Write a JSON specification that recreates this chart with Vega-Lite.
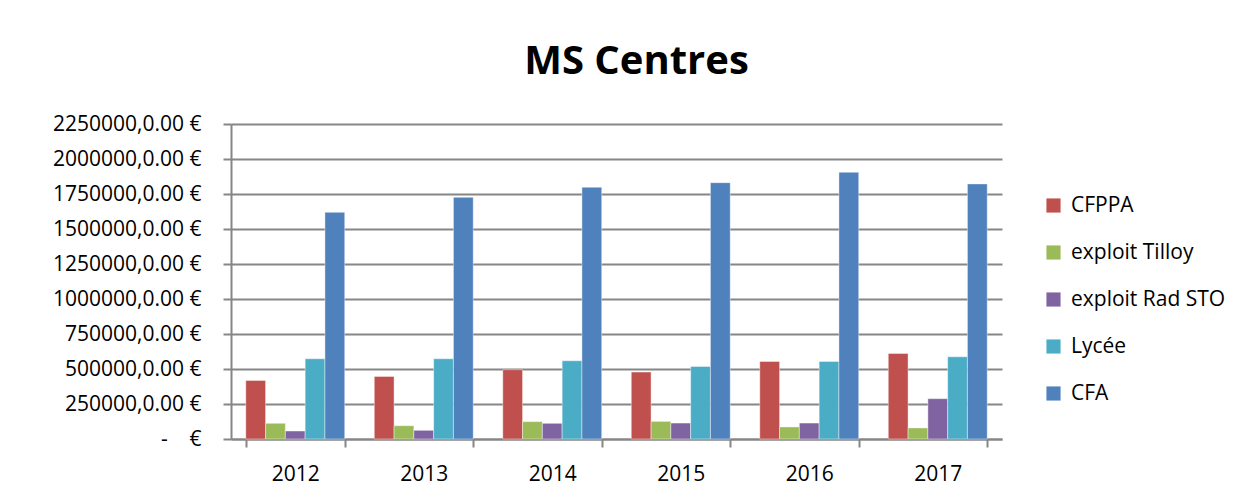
{
  "$schema": "https://vega.github.io/schema/vega-lite/v6.json",
  "autosize": {"type": "none"},
  "width": 771,
  "height": 315,
  "padding": {"left": 231, "top": 124, "right": 248, "bottom": 58},
  "background": "white",
  "title": {
    "text": "MS Centres",
    "font": "Open Sans",
    "fontSize": 40,
    "fontWeight": "bold",
    "color": "black",
    "anchor": "middle",
    "offset": 31,
    "dx": 20
  },
  "data": {
    "values": [
      {"year": "2012", "centre": "CFPPA", "value": 418000},
      {"year": "2012", "centre": "exploit Tilloy", "value": 112000},
      {"year": "2012", "centre": "exploit Rad STO", "value": 57000},
      {"year": "2012", "centre": "Lycée", "value": 573000},
      {"year": "2012", "centre": "CFA", "value": 1619000},
      {"year": "2013", "centre": "CFPPA", "value": 447000},
      {"year": "2013", "centre": "exploit Tilloy", "value": 95000},
      {"year": "2013", "centre": "exploit Rad STO", "value": 62000},
      {"year": "2013", "centre": "Lycée", "value": 573000},
      {"year": "2013", "centre": "CFA", "value": 1726000},
      {"year": "2014", "centre": "CFPPA", "value": 495000},
      {"year": "2014", "centre": "exploit Tilloy", "value": 124000},
      {"year": "2014", "centre": "exploit Rad STO", "value": 112000},
      {"year": "2014", "centre": "Lycée", "value": 559000},
      {"year": "2014", "centre": "CFA", "value": 1798000},
      {"year": "2015", "centre": "CFPPA", "value": 478000},
      {"year": "2015", "centre": "exploit Tilloy", "value": 126000},
      {"year": "2015", "centre": "exploit Rad STO", "value": 114000},
      {"year": "2015", "centre": "Lycée", "value": 518000},
      {"year": "2015", "centre": "CFA", "value": 1831000},
      {"year": "2016", "centre": "CFPPA", "value": 554000},
      {"year": "2016", "centre": "exploit Tilloy", "value": 86000},
      {"year": "2016", "centre": "exploit Rad STO", "value": 114000},
      {"year": "2016", "centre": "Lycée", "value": 554000},
      {"year": "2016", "centre": "CFA", "value": 1905000},
      {"year": "2017", "centre": "CFPPA", "value": 611000},
      {"year": "2017", "centre": "exploit Tilloy", "value": 79000},
      {"year": "2017", "centre": "exploit Rad STO", "value": 288000},
      {"year": "2017", "centre": "Lycée", "value": 587000},
      {"year": "2017", "centre": "CFA", "value": 1822000}
    ]
  },
  "mark": {"type": "bar", "stroke": "white", "strokeWidth": 0.6, "strokeOpacity": 0.7},
  "encoding": {
    "x": {
      "field": "year",
      "type": "nominal",
      "scale": {"paddingInner": 0.23, "paddingOuter": 0.115},
      "axis": {
        "title": null,
        "labelAngle": 0,
        "labelFont": "Open Sans",
        "labelFontSize": 21,
        "labelColor": "black",
        "labelPadding": 16,
        "tickBand": "extent",
        "tickSize": 8,
        "tickColor": "#868686",
        "tickWidth": 2,
        "domainColor": "#868686",
        "domainWidth": 2,
        "grid": false
      }
    },
    "xOffset": {
      "field": "centre",
      "sort": ["CFPPA", "exploit Tilloy", "exploit Rad STO", "Lycée", "CFA"]
    },
    "y": {
      "field": "value",
      "type": "quantitative",
      "scale": {"domain": [0, 2250000], "nice": false},
      "axis": {
        "title": null,
        "values": [0, 250000, 500000, 750000, 1000000, 1250000, 1500000, 1750000, 2000000, 2250000],
        "labelExpr": "datum.value == 0 ? '-\u00a0\u00a0\u00a0\u00a0€' : format(datum.value, 'd') + ',0.00 €'",
        "labelFont": "Open Sans",
        "labelFontSize": 21,
        "labelColor": "black",
        "labelPadding": 22,
        "tickSize": 8,
        "tickColor": "#868686",
        "tickWidth": 2,
        "domainColor": "#868686",
        "domainWidth": 2,
        "grid": true,
        "gridColor": "#868686",
        "gridWidth": 2
      }
    },
    "color": {
      "field": "centre",
      "type": "nominal",
      "sort": ["CFPPA", "exploit Tilloy", "exploit Rad STO", "Lycée", "CFA"],
      "scale": {
        "domain": ["CFPPA", "exploit Tilloy", "exploit Rad STO", "Lycée", "CFA"],
        "range": ["#C0504D", "#9BBB59", "#8064A2", "#4BACC6", "#4F81BD"]
      },
      "legend": {
        "title": null,
        "orient": "none",
        "legendX": 812,
        "legendY": 71,
        "symbolType": "square",
        "symbolSize": 200,
        "symbolStrokeWidth": 0,
        "symbolOpacity": 1,
        "labelFont": "Open Sans",
        "labelFontSize": 21,
        "labelColor": "black",
        "labelOffset": 7,
        "rowPadding": 25
      }
    }
  },
  "config": {
    "view": {"stroke": null}
  }
}
